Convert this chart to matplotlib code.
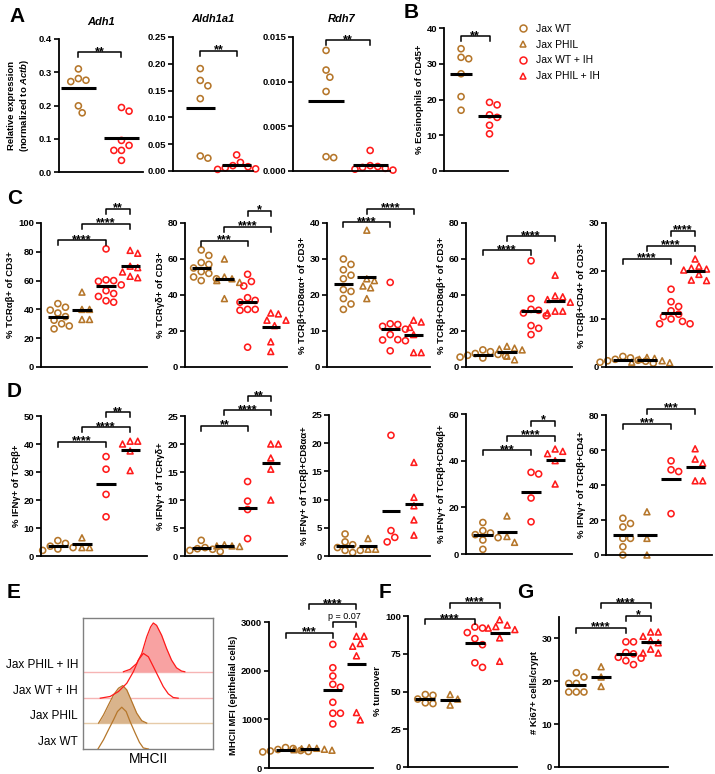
import numpy as np
import matplotlib
matplotlib.use('Agg')
import matplotlib.pyplot as plt
from matplotlib.lines import Line2D

plt.rcParams['font.family'] = ['Liberation Sans', 'DejaVu Sans']
plt.rcParams['font.weight'] = 'bold'
plt.rcParams['axes.labelweight'] = 'bold'
plt.rcParams['mathtext.fontset'] = 'custom'
plt.rcParams['mathtext.rm'] = 'Liberation Sans:bold'
plt.rcParams['mathtext.it'] = 'Liberation Sans:bold:italic'
plt.rcParams['mathtext.bf'] = 'Liberation Sans:bold'

group_names = ['Jax WT', 'Jax PHIL', 'Jax WT + IH', 'Jax PHIL + IH']

# A - qPCR, WT vs WT + IH
adh1_wt = [0.281, 0.310, 0.272, 0.276, 0.199, 0.178]
adh1_ih = [0.194, 0.183, 0.095, 0.080, 0.065, 0.065, 0.035]
aldh1a1_wt = [0.191, 0.169, 0.159, 0.135, 0.024, 0.028]
aldh1a1_ih = [0.030, 0.016, 0.010, 0.008, 0.004, 0.003, 0.006]
rdh7_wt = [0.0135, 0.0113, 0.0105, 0.0089, 0.0015, 0.0016]
rdh7_ih = [0.0023, 0.0006, 0.0005, 0.0002, 0.0001, 0.0003, 0.0004]

# B
eos_wt = [34.2, 31.8, 31.4, 27.2, 20.8, 17.0]
eos_ih = [18.5, 19.2, 15.7, 15.0, 12.8, 10.4]

# C - groups in order WT, PHIL, WT+IH, PHIL+IH
tcrab = [[44, 41.5, 39.5, 37.5, 35, 32.5, 30, 28.5, 26.5],
         [52, 40, 40, 33, 33],
         [82, 60.5, 60, 59.5, 57, 53, 51, 49, 46, 45],
         [81, 79, 70, 69, 66, 63, 62]]
tcrgd = [[65, 62, 58, 57, 55, 53, 52, 50, 49, 48],
         [60, 50, 49, 48, 47, 38],
         [51.5, 47.5, 45, 38.5, 37, 36, 32, 32, 31.5, 11],
         [30, 29.5, 26, 26, 23, 14, 8.6]]
cd8aa = [[30, 28.5, 27, 25.5, 24.5, 21.5, 21, 19, 17.5, 16],
         [38, 24.5, 24, 22.5, 22, 19],
         [23.5, 12, 11.8, 11.3, 10.5, 9, 7.6, 7.5, 7.3, 4.5],
         [13, 12.5, 11, 9, 4, 4]]
cd8ab = [[9.5, 8.5, 7.5, 7, 6.5, 6, 5.5, 5],
         [11.5, 10.5, 10, 9.5, 6, 4],
         [59, 38, 32, 31.5, 30, 28.5, 23, 21.5, 18],
         [51, 39.5, 39, 37.5, 36, 31, 31, 30]]
cd4 = [[2.2, 1.9, 1.6, 1.4, 1.2, 1.0, 0.8, 1.3],
       [2.0, 1.8, 1.6, 1.3, 1.0, 0.9],
       [16.2, 13.6, 12.6, 11.7, 11, 10.5, 10, 9.5, 9, 9],
       [22.5, 21, 20.6, 20.4, 20.2, 19.3, 18.1, 18]]

# D - IFNg+
ifn_ab = [[5.5, 4.5, 3.5, 3, 2.5, 2], [6.5, 3, 3], [35.5, 31, 22, 14], [41, 41, 40, 37.5, 30.5]]
ifn_gd = [[2.8, 1.5, 1.3, 1.2, 1.0, 0.8], [2.0, 1.8, 1.8, 1.7], [13.3, 9.8, 8.3, 3.1], [20, 20, 17.5, 15.5, 10]]
ifn_aa = [[3.9, 2.5, 2.0, 1.5, 1.0, 1.0, 0.6], [3.1, 1.2, 1.2], [21.4, 4.5, 3.3, 2.5], [16.6, 10.4, 8.9, 6.4, 3.7]]
ifn_ab8 = [[13.5, 10, 9, 8.3, 7, 6, 2], [16.3, 7.5, 5], [34.3, 35, 24, 13.8], [45, 44, 43, 40, 30]]
ifn_cd4 = [[21, 18, 16, 9.5, 9.5, 4.7, 0], [24.7, 9.5, 0], [53.8, 48.7, 47.7, 23.6], [60.7, 54.8, 52.5, 42.4, 42.4]]

# E, F, G
mhc_mfi = [[420, 400, 380, 360, 350, 340, 330],
           [420, 405, 395, 385, 375, 365],
           [2540, 2060, 1890, 1720, 1660, 1350, 1125, 1125, 905],
           [2707, 2707, 2557, 2502, 2305, 1139, 989]]
turnover = [[48, 47.5, 45, 42.5, 42], [48, 45, 41],
            [92.7, 92, 89, 85, 81, 69, 66], [97.5, 94, 93, 92, 91, 85.5, 70]]
ki67 = [[22, 21, 19.5, 19.5, 17.5, 17.5, 17.5], [23.4, 21, 18.8],
        [29.2, 29.2, 26.7, 26.4, 25.6, 25.4, 24.8, 23.9],
        [31.5, 31.5, 30.5, 29.5, 29, 27.5, 26.6, 26.6]]

# histogram traces (MHCII position, height)
hist_x_wt = [11.5, 15.8, 19.6, 23.5, 26.5, 29.8, 33.2, 36.2, 40.1, 43.4, 46.4, 50.3]
hist_y_wt = [0, 7.1, 14.7, 22.3, 28.6, 31.9, 28.6, 21.0, 12.2, 5.1, 0.8, 0]
hist_x_phil = [12.0, 15.8, 19.6, 23.5, 27.3, 30.6, 33.7, 37.5, 41.3, 45.2, 49.0]
hist_y_phil = [0, 6.3, 13.9, 21.5, 26.6, 28.6, 25.3, 16.5, 7.6, 1.8, 0]
hist_x_wtih = [13.3, 20.9, 27.3, 33.7, 38.8, 42.6, 46.4, 50.3, 54.1, 57.9, 61.7, 65.6, 69.4, 73.2]
hist_y_wtih = [0, 1.3, 5.1, 11.4, 20.3, 29.1, 34.2, 31.6, 24.1, 16.5, 8.9, 3.3, 0.5, 0]
hist_x_philih = [31.1, 36.2, 41.3, 45.2, 49.0, 52.0, 54.1, 56.6, 60.5, 64.3, 68.1, 71.9, 75.8, 78.3]
hist_y_philih = [0, 1.8, 6.3, 13.9, 26.6, 34.2, 37.2, 35.4, 27.8, 17.7, 8.9, 3.0, 0.5, 0]

BROWN = '#B5762A'
RED = '#FF1A1A'
STY4 = [(BROWN, 'o'), (BROWN, '^'), (RED, 'o'), (RED, '^')]
STY2 = [(BROWN, 'o'), (RED, 'o')]

W, H = 715, 774
fig = plt.figure(figsize=(W / 100, H / 100), dpi=100)


def swarm(vals, ppx, ppy, diam=7.6):
    vals = np.asarray(vals, float)
    steps = [0.0]
    for k in range(1, 16):
        steps += [k * 0.5, -k * 0.5]
    placed = []
    offs = np.zeros(len(vals))
    for i in np.argsort(-vals):
        yp = vals[i] * ppy
        for s in steps:
            xp = s * diam
            if all((xp - a) ** 2 + (yp - b) ** 2 >= diam ** 2 for a, b in placed):
                break
        placed.append((xp, yp))
        offs[i] = xp / ppx
    return offs


def dot_panel(box, groups, styles, top, ticks, fmt, ylabel, xlim, brackets=(), half=0.4):
    x0, y0, x1, y1 = box
    ax = fig.add_axes([x0 / W, 1 - y1 / H, (x1 - x0) / W, (y1 - y0) / H])
    ax.set_xlim(*xlim)
    ax.set_ylim(0, top)
    ppx = (x1 - x0) / (xlim[1] - xlim[0])
    ppy = (y1 - y0) / top
    for gi, vals in enumerate(groups):
        col, mk = styles[gi]
        offs = swarm(vals, ppx, ppy)
        ax.scatter(gi + offs, vals, s=19 if mk == 'o' else 18, marker=mk,
                   facecolors='none', edgecolors=col, linewidths=1.15,
                   clip_on=False, zorder=2)
        ax.plot([gi - half, gi + half], [np.mean(vals)] * 2, color='k',
                lw=2.2, solid_capstyle='butt', zorder=3)
    for sp in ['top', 'right']:
        ax.spines[sp].set_visible(False)
    for sp in ['left', 'bottom']:
        ax.spines[sp].set_linewidth(1.3)
    ax.set_xticks([])
    ax.set_yticks(ticks)
    ax.set_yticklabels([fmt.format(t) for t in ticks], fontweight='bold')
    ax.tick_params(axis='y', length=3.5, width=1.2, pad=1.5, labelsize=6.8)
    ax.set_ylabel(ylabel, fontsize=6.8, fontweight='bold', labelpad=2)
    ax.patch.set_alpha(0)
    drop = 5 / ppy
    for i, j, y, lab in brackets:
        ax.plot([i, i, j, j], [y - drop, y, y, y - drop], color='k', lw=1.1,
                clip_on=False)
        if lab.startswith('*'):
            ax.text((i + j) / 2, y - 2.5 / ppy, lab, ha='center', va='baseline',
                    fontsize=9, fontweight='bold')
        else:
            ax.text((i + j) / 2, y + 3 / ppy, lab, ha='center', va='baseline',
                    fontsize=6.5, fontweight='normal')
    return ax


XA = (-0.75, 1.45)
X4 = (-0.7, 3.7)

# ---- A ----
a1 = dot_panel((59, 39, 143, 172), [adh1_wt, adh1_ih], STY2, 0.4,
               [0, 0.1, 0.2, 0.3, 0.4], '{:.1f}',
               'Relative expression\n(normalized to $Actb$)', (-0.45, 1.5),
               [(0, 1, 0.36, '**')])
a1.yaxis.set_label_coords(-0.33, 0.5)
a1.set_title('Adh1', fontsize=8, fontstyle='italic', fontweight='bold', pad=10)
a2 = dot_panel((173, 37, 253, 171), [aldh1a1_wt, aldh1a1_ih], STY2, 0.25,
               [0, 0.05, 0.10, 0.15, 0.20, 0.25], '{:.2f}', '', XA,
               [(0, 1, 0.2244, '**')])
a2.set_title('Aldh1a1', fontsize=8, fontstyle='italic', fontweight='bold', pad=11)
a3 = dot_panel((293, 37, 390, 171), [rdh7_wt, rdh7_ih], STY2, 0.015,
               [0, 0.005, 0.010, 0.015], '{:.3f}', '', XA,
               [(0, 1, 0.01463, '**')])
a3.set_title('Rdh7', fontsize=8, fontstyle='italic', fontweight='bold', pad=11)

# ---- B ----
dot_panel((444, 28, 508, 171), [eos_wt, eos_ih], STY2, 40,
          [0, 10, 20, 30, 40], '{:d}', '% Eosinophils of CD45+', (-0.6, 1.65),
          [(0, 1, 37.7, '**')])
handles = [Line2D([], [], linestyle='none', marker=m, markerfacecolor='none',
                  markeredgecolor=c, markeredgewidth=1.1, markersize=5)
           for c, m in STY4]
fig.legend(handles, group_names, loc='upper left',
           bbox_to_anchor=(517 / W, 1 - 24 / H), frameon=False,
           prop={'size': 7.5, 'weight': 'normal'}, handletextpad=0.6,
           labelspacing=0.55, handlelength=1.2, borderaxespad=0, borderpad=0)

# ---- C ----
dot_panel((41, 223, 147, 367), tcrab, STY4, 100, [0, 20, 40, 60, 80, 100], '{:d}',
          '% TCRαβ+ of CD3+', X4,
          [(0, 2, 88, '****'), (1, 3, 99.5, '****'), (2, 3, 110, '**')])
dot_panel((185, 223, 287, 367), tcrgd, STY4, 80, [0, 20, 40, 60, 80], '{:d}',
          '% TCRγδ+ of CD3+', X4,
          [(0, 2, 70, '***'), (1, 3, 78, '****'), (2, 3, 86.8, '*')])
dot_panel((327, 223, 430, 367), cd8aa, STY4, 40, [0, 10, 20, 30, 40], '{:d}',
          '% TCRβ+CD8αα+ of CD3+', X4,
          [(0, 2, 40.2, '****'), (1, 3, 44, '****')])
dot_panel((466, 223, 572, 367), cd8ab, STY4, 80, [0, 20, 40, 60, 80], '{:d}',
          '% TCRβ+CD8αβ+ of CD3+', X4,
          [(0, 2, 64.8, '****'), (1, 3, 72.6, '****')])
dot_panel((606, 223, 712, 367), cd4, STY4, 30, [0, 10, 20, 30], '{:d}',
          '% TCRβ+CD4+ of CD3+', X4,
          [(0, 2, 22.5, '****'), (1, 3, 25.3, '****'), (2, 3, 28.4, '****')])

# ---- D ----
dot_panel((41, 416, 147, 556), ifn_ab, STY4, 50, [0, 10, 20, 30, 40, 50], '{:d}',
          '% IFNγ+ of TCRβ+', X4,
          [(0, 2, 40.8, '****'), (1, 3, 46, '****'), (2, 3, 51.3, '**')])
dot_panel((185, 416, 287, 556), ifn_gd, STY4, 25, [0, 5, 10, 15, 20, 25], '{:d}',
          '% IFNγ+ of TCRγδ+', X4,
          [(0, 2, 23.2, '**'), (1, 3, 26, '****'), (2, 3, 28.5, '**')])
dot_panel((329, 415, 430, 556), ifn_aa, STY4, 25, [0, 5, 10, 15, 20, 25], '{:d}',
          '% IFNγ+ of TCRβ+CD8αα+', X4)
dot_panel((466, 414, 572, 554), ifn_ab8, STY4, 60, [0, 20, 40, 60], '{:d}',
          '% IFNγ+ of TCRβ+CD8αβ+', X4,
          [(0, 2, 44.4, '***'), (1, 3, 50.7, '****'), (2, 3, 57.1, '*')])
dot_panel((606, 415, 712, 555), ifn_cd4, STY4, 80, [0, 20, 40, 60, 80], '{:d}',
          '% IFNγ+ of TCRβ+CD4+', X4,
          [(0, 2, 75, '***'), (1, 3, 83.4, '***')])

# ---- E histogram ----
hx0, hy0, hx1, hy1 = 83, 618, 213, 749
hax = fig.add_axes([hx0 / W, 1 - hy1 / H, (hx1 - hx0) / W, (hy1 - hy0) / H])
hax.set_xlim(0, 100)
hax.set_ylim(0, 100)
hax.set_xticks([])
hax.set_yticks([])
for sp in hax.spines.values():
    sp.set_color('#808080')
    sp.set_linewidth(1.0)
traces = [(hist_x_wt, hist_y_wt, 0.0, BROWN, None, '#E6CBA8'),
          (hist_x_phil, hist_y_phil, 19.8, BROWN, '#D9B48C', '#E6CBA8'),
          (hist_x_wtih, hist_y_wtih, 38.8, RED, None, '#F6B4B4'),
          (hist_x_philih, hist_y_philih, 59.0, RED, '#F8A2A2', '#F6B4B4')]
for k, (xs, ys, base, col, fill, pale) in enumerate(traces):
    xs = np.asarray(xs)
    ys = np.asarray(ys) + base
    if base > 0:
        hax.axhline(base, color=pale, lw=1.0, zorder=1)
    if fill:
        hax.fill_between(xs, base, ys, color=fill, lw=0, zorder=2 + k)
    hax.plot(xs, ys, color=col, lw=0.9, zorder=6 + k)
    hax.text(-3.8, base + 5.5, group_names[k], ha='right', va='center',
             fontsize=8.5, fontweight='normal', clip_on=False)
hax.set_xlabel('MHCII', fontsize=10, fontweight='normal', labelpad=2)

dot_panel((269, 622, 373, 768), mhc_mfi, STY4, 3000, [0, 1000, 2000, 3000], '{:d}',
          'MHCII MFI (epithelial cells)', X4,
          [(0, 2, 2782, '***'), (2, 3, 3000, 'p = 0.07'), (1, 3, 3361, '****')])

# ---- F, G ----
dot_panel((408, 616, 517, 767), turnover, STY4, 100, [0, 25, 50, 75, 100], '{:d}',
          '% turnover', X4,
          [(0, 2, 97.8, '****'), (1, 3, 108.8, '****')])
dot_panel((559, 617, 668, 767), ki67, STY4, 35, [0, 10, 20, 30], '{:d}',
          '# Ki67+ cells/crypt', X4,
          [(0, 2, 32.4, '****'), (2, 3, 35.3, '*'), (1, 3, 38.2, '****')])

# panel letters
for lab, x, y in [('A', 9, 16), ('B', 404, 12), ('C', 7, 198), ('D', 7, 391),
                  ('E', 7, 593), ('F', 379, 593), ('G', 517, 593)]:
    fig.text(x / W, 1 - y / H, lab, fontsize=15, fontweight='bold', ha='left', va='center')

fig.savefig('out.png', dpi=100)
